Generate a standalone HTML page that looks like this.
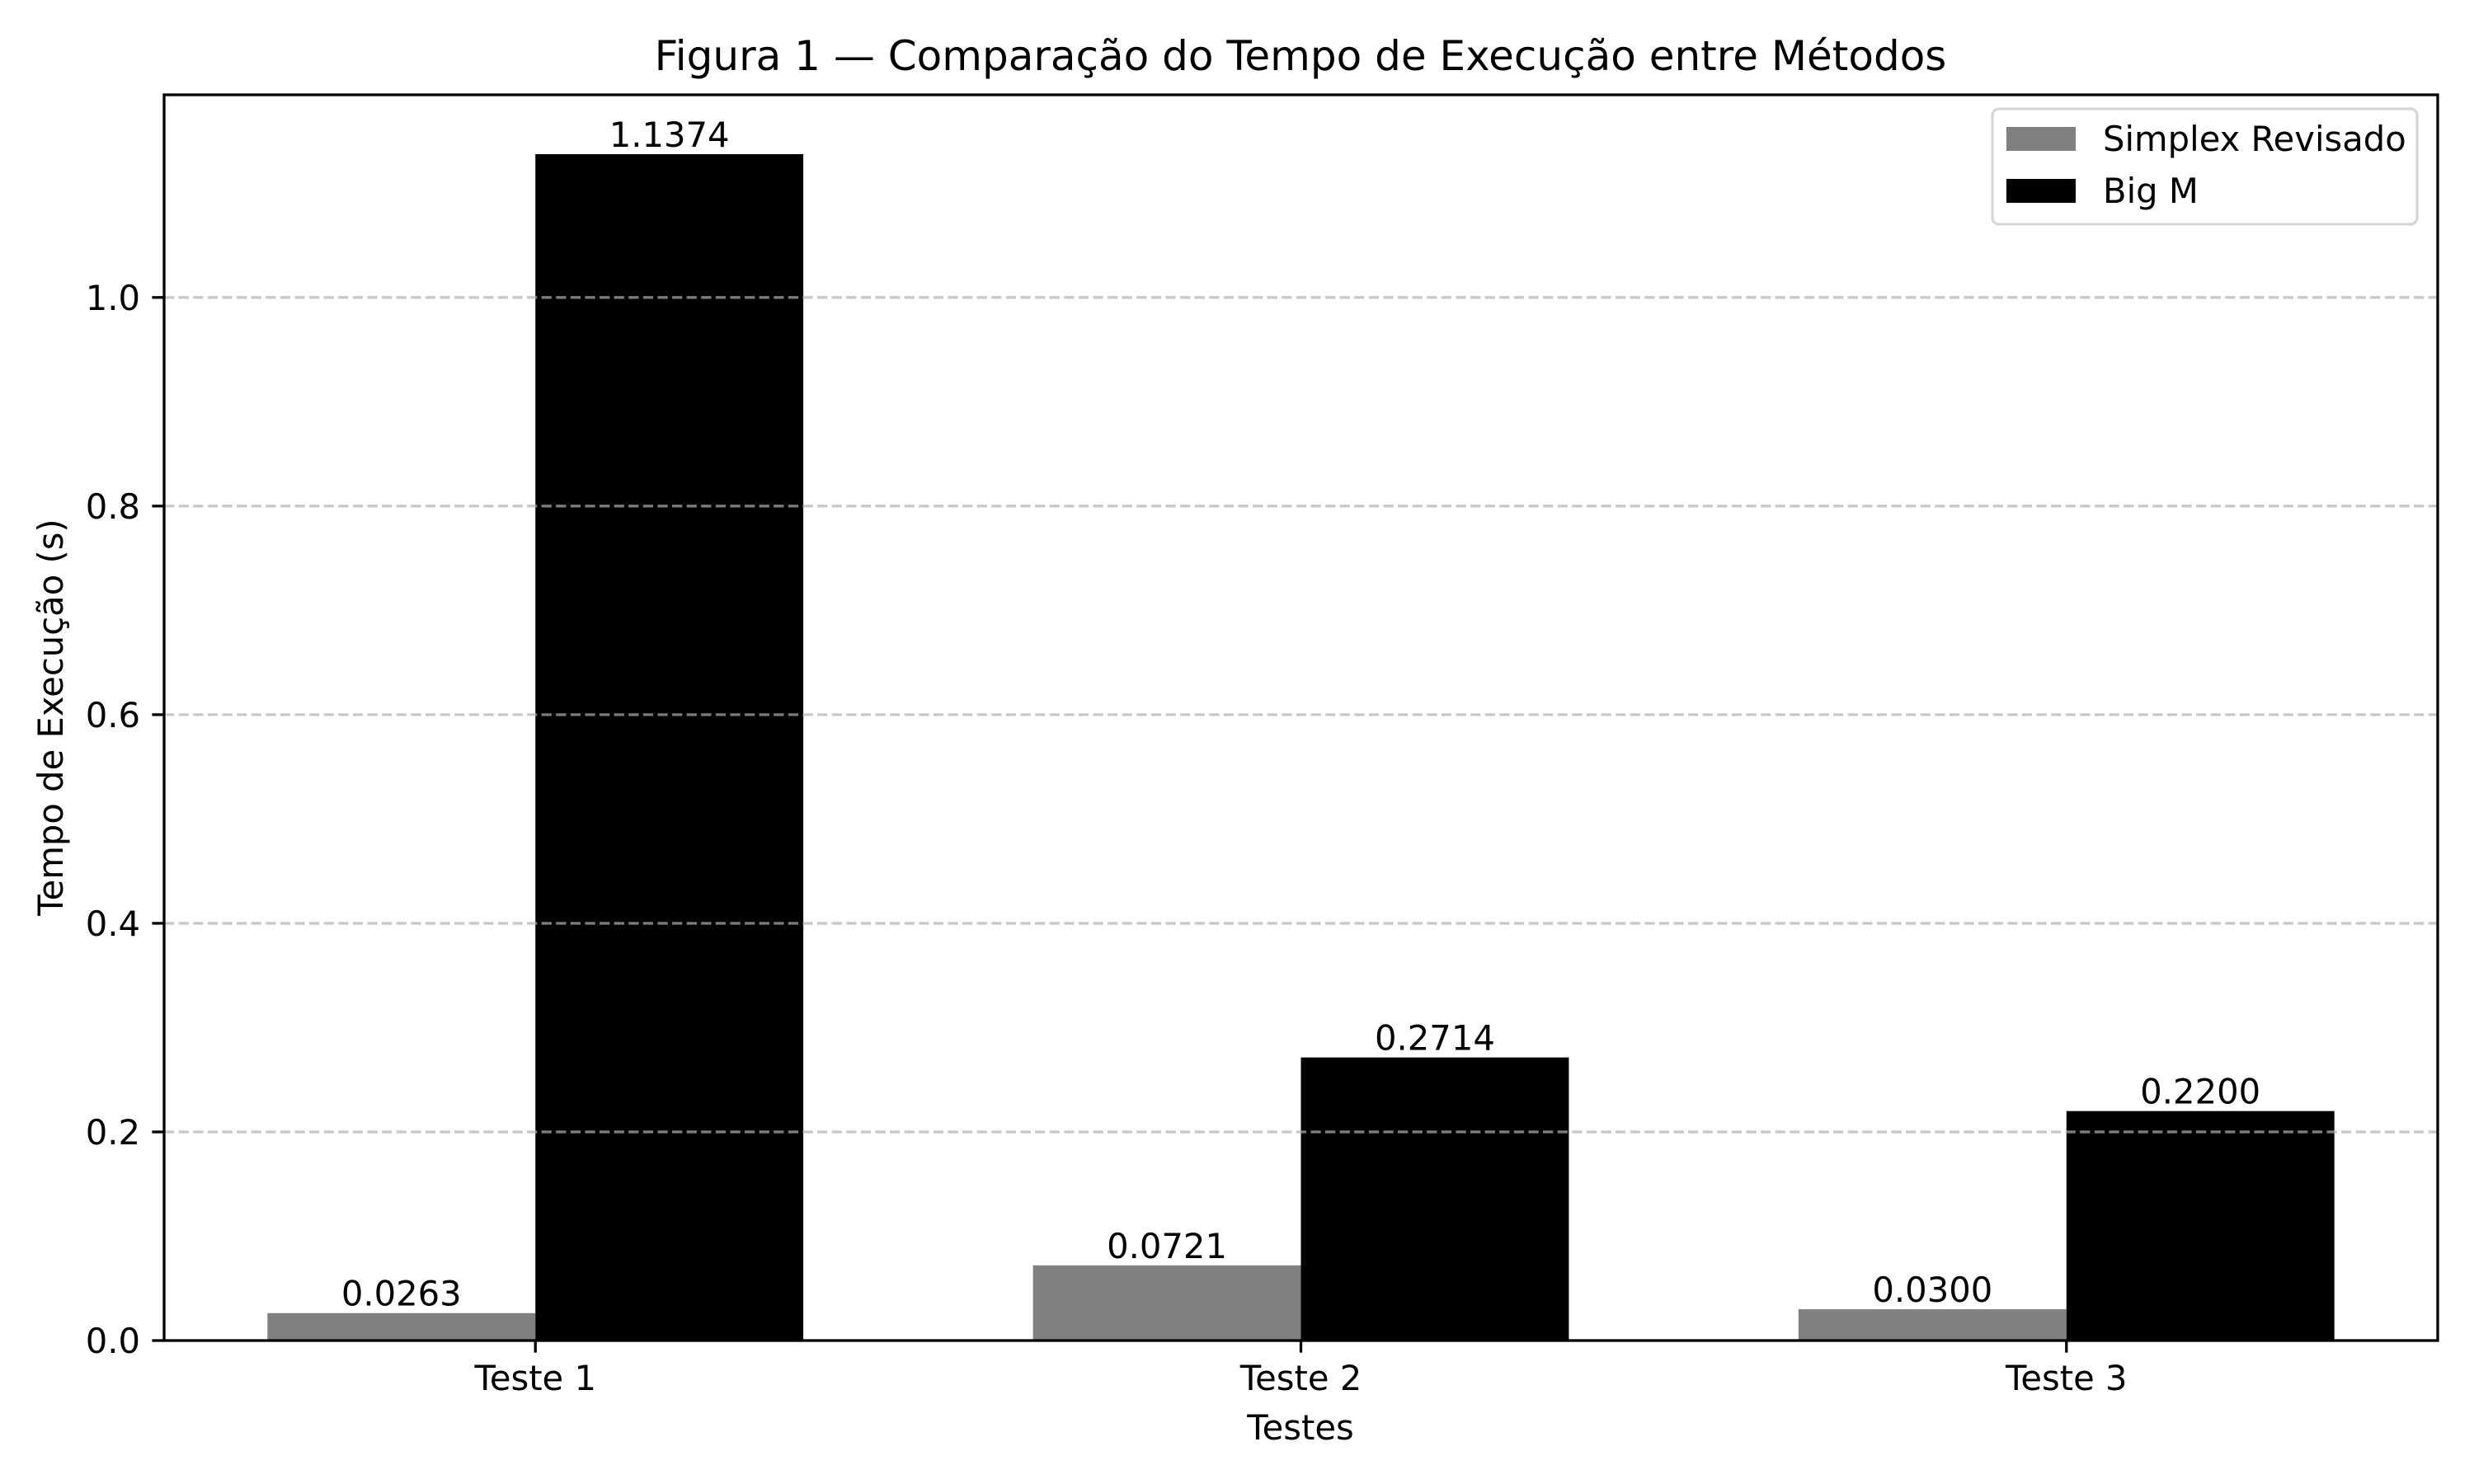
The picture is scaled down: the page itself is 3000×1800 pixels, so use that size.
<!DOCTYPE html>
<html><head><meta charset="utf-8"><style>
html,body{margin:0;padding:0;background:#fff}
svg{display:block;font-family:"DejaVu Sans","Liberation Sans",sans-serif}
</style></head><body>
<svg id="chart" width="3000" height="1800" viewBox="0 0 3000 1800" xmlns="http://www.w3.org/2000/svg">
<rect width="3000" height="1800" fill="#fff"/>
<text x="1577" y="85" font-size="50" text-anchor="middle">Figura 1 — Comparação do Tempo de Execução entre Métodos</text>
<g id="plot"></g>
<text x="1577" y="1746" font-size="41.7" text-anchor="middle">Testes</text>
<text transform="translate(76,870) rotate(-90)" font-size="41.7" text-anchor="middle">Tempo de Execução (s)</text>
<g>
<rect x="2416" y="132" width="515" height="140" rx="8" fill="#fff" fill-opacity="0.8" stroke="#d6d6d6" stroke-width="3.3"/>
<rect x="2433" y="154" width="84" height="29" fill="#808080"/>
<text x="2550" y="183" font-size="41.7">Simplex Revisado</text>
<rect x="2433" y="217" width="84" height="29" fill="#000"/>
<text x="2550" y="246" font-size="41.7">Big M</text>
</g>
</svg>
<script>
const categories = ["Teste 1", "Teste 2", "Teste 3"];
const simplexValues = [0.0263, 0.0721, 0.0300];
const bigMValues = [1.1374, 0.2714, 0.2200];
const yTicks = [0.0, 0.2, 0.4, 0.6, 0.8, 1.0];
const yTickLabels = ["0.0", "0.2", "0.4", "0.6", "0.8", "1.0"];

const L = 199, R = 2956, T = 115, B = 1626;
const barW = 0.35;
const xmin = -0.485, xmax = categories.length - 1 + 0.485;
const ymax = Math.max(...bigMValues, ...simplexValues) * 1.05;
const xs = v => L + (v - xmin) / (xmax - xmin) * (R - L);
const ys = v => B - v / ymax * (B - T);
const NS = "http://www.w3.org/2000/svg";
const plot = document.getElementById('plot');
function mk(tag, attrs, parent) {
  const e = document.createElementNS(NS, tag);
  for (const k in attrs) e.setAttribute(k, attrs[k]);
  (parent || plot).appendChild(e);
  return e;
}
const series = [
  {vals: simplexValues, color: "#808080", off: -barW / 2, name: "simplex"},
  {vals: bigMValues, color: "#000000", off: barW / 2, name: "bigm"}
];
series.forEach(s => {
  s.vals.forEach((v, i) => {
    const x0 = xs(i + s.off - barW / 2), x1 = xs(i + s.off + barW / 2);
    const r = mk('rect', {x: x0, y: ys(v), width: x1 - x0, height: ys(0) - ys(v), fill: s.color});
    
    
    const t = mk('text', {x: (x0 + x1) / 2, y: ys(v) - 9, 'font-size': 41.7, 'text-anchor': 'middle'});
    t.textContent = v.toFixed(4);
    
    
  });
});
yTicks.forEach((v, i) => {
  const y = ys(v);
  if (v > 0) {
    const g = mk('line', {x1: L, x2: R, y1: y, y2: y, stroke: "#b0b0b0", 'stroke-opacity': 0.7, 'stroke-width': 3.3, 'stroke-dasharray': "12.3 5.3"});
    
    
  }
  const tk = mk('line', {x1: L - 14.6, x2: L, y1: y, y2: y, stroke: "#000", 'stroke-width': 3.3});
  
  
  const t = mk('text', {x: L - 29, y: y + 15, 'font-size': 41.7, 'text-anchor': 'end'});
  t.textContent = yTickLabels[i];
  
  
});
categories.forEach((c, i) => {
  const x = xs(i);
  const tk = mk('line', {x1: x, x2: x, y1: B, y2: B + 14.6, stroke: "#000", 'stroke-width': 3.3});
  
  
  const t = mk('text', {x: x, y: B + 60, 'font-size': 41.7, 'text-anchor': 'middle'});
  t.textContent = c;
  
  
});
const frame = mk('rect', {x: L, y: T, width: R - L, height: B - T, fill: "none", stroke: "#000", 'stroke-width': 3.3});


</script>
</body></html>
